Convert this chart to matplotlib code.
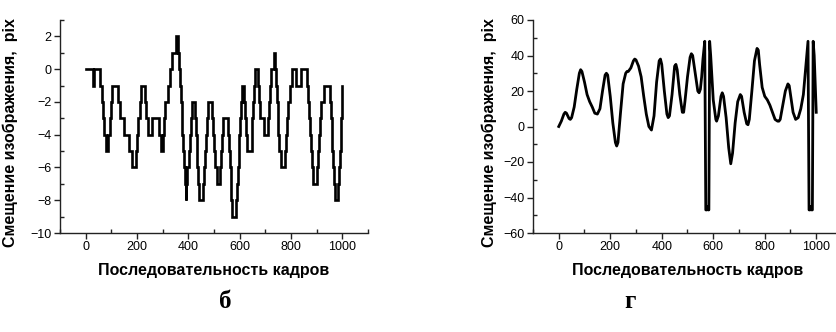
import matplotlib
matplotlib.use("Agg")
import matplotlib.pyplot as plt
from matplotlib.ticker import MultipleLocator

# ---- Panel б : stepped shift (integer pixels) ----
b_frames = [0, 27, 31, 55, 62, 67, 73, 80, 88, 93, 98, 104, 125, 133, 150, 167, 182, 195, 200, 205,
            210, 217, 232, 237, 243, 260, 284, 292, 300, 305, 311, 321, 329, 335, 353, 358, 363, 367,
            370, 374, 377, 380, 383, 386, 389, 392, 396, 401, 406, 411, 416, 426, 429, 432, 435, 439,
            443, 459, 462, 465, 468, 471, 476, 494, 498, 501, 505, 511, 524, 527, 531, 536, 556, 559,
            562, 565, 568, 571, 587, 590, 593, 596, 599, 602, 605, 608, 617, 620, 623, 627, 647, 650,
            653, 656, 660, 673, 676, 680, 696, 712, 715, 718, 722, 732, 736, 740, 744, 748, 751, 755,
            762, 778, 781, 784, 789, 795, 805, 818, 840, 864, 866, 869, 873, 876, 880, 886, 903, 907,
            910, 914, 918, 929, 952, 955, 958, 961, 964, 967, 970, 985, 988, 991, 993, 995, 997, 1000]
b_values = [0, -1, 0, -1, -2, -3, -4, -5, -4, -3, -2, -1, -2, -3, -4, -5, -6, -5, -4, -3,
            -2, -1, -2, -3, -4, -3, -4, -5, -4, -3, -2, -1, 0, 1, 2, 1, 0, -1,
            -2, -3, -4, -5, -6, -7, -8, -7, -6, -5, -4, -3, -2, -3, -4, -5, -6, -7,
            -8, -7, -6, -5, -4, -3, -2, -3, -4, -5, -6, -7, -6, -5, -4, -3, -4, -5,
            -6, -7, -8, -9, -8, -7, -6, -5, -4, -3, -2, -1, -2, -3, -4, -5, -4, -3,
            -2, -1, 0, -1, -2, -3, -4, -3, -2, -1, 0, 1, 0, -1, -2, -3, -4, -5,
            -6, -5, -4, -3, -2, -1, 0, -1, 0, -1, -2, -3, -4, -5, -6, -7, -6, -5,
            -4, -3, -2, -1, -2, -3, -4, -5, -6, -7, -8, -7, -6, -5, -4, -3, -2, -1]

# ---- Panel г : continuous shift ----
g_frames = [0, 10, 20, 25, 30, 40, 45, 50, 60, 70, 80, 85, 90, 100, 110, 120, 130, 140, 150, 160,
            170, 180, 185, 190, 200, 210, 220, 225, 230, 240, 250, 260, 265, 270, 280, 290, 295, 300,
            310, 320, 330, 340, 350, 360, 370, 380, 390, 395, 400, 410, 420, 425, 430, 440, 450, 455,
            460, 470, 480, 485, 490, 500, 510, 515, 520, 530, 540, 545, 550, 555, 560, 567, 571, 575,
            578, 581, 583, 586, 590, 600, 610, 613, 620, 630, 635, 640, 650, 660, 668, 675, 685, 695,
            705, 710, 720, 730, 735, 740, 750, 760, 770, 775, 780, 790, 800, 810, 820, 830, 840, 850,
            855, 860, 870, 880, 890, 895, 900, 910, 920, 930, 940, 950, 960, 968, 972, 976, 979, 982,
            985, 988, 992, 1000]
g_values = [0, 3, 7, 8, 7.5, 4.5, 4, 5, 11, 21, 30, 32, 31, 25, 18, 14, 11, 7.5, 7, 10,
            20, 29, 30, 29, 17, 2, -9, -11, -9, 8, 24, 30, 31, 31, 33, 37, 38, 37.5,
            34, 28, 17, 7, 0, -2, 6, 25, 37, 38, 35, 20, 7, 5, 6, 18, 34, 35,
            32, 18, 8, 8, 14, 28, 39, 41, 40, 30, 20, 19, 21, 28, 38, 48, -47, -47,
            -45, -47, -47, 48, 40, 15, 4, 3, 6, 17, 19, 17, 5, -12, -21, -15, 2, 14,
            18, 17, 8, 1.5, 1, 4, 20, 37, 44, 43, 35, 22, 17, 15, 12, 8, 4, 3,
            3, 4, 12, 20, 24, 23, 18, 8, 4, 5, 10, 18, 35, 48, -47, -47, -45, -47,
            -47, 48, 40, 8]

x_label = "Последовательность кадров"
y_label = "Смещение изображения,  pix"
panel_labels = ["б", "г"]

plt.rcParams['font.family'] = ['Liberation Sans', 'DejaVu Sans']

W, H = 837, 332
fig = plt.figure(figsize=(W / 100, H / 100), dpi=100)

def px_axes(x0, x1, ytop, ybot):
    return fig.add_axes([x0 / W, (H - ybot) / H, (x1 - x0) / W, (ybot - ytop) / H])

ax1 = px_axes(60, 368, 20, 233)
ax2 = px_axes(533, 842, 20, 233)

ax1.plot(b_frames, b_values, drawstyle='steps-post', color='black', lw=1.9, solid_joinstyle='miter')
ax2.plot(g_frames, g_values, color='black', lw=2.0, solid_joinstyle='round')

ax1.set_xlim(-100, 1100)
ax1.set_ylim(-10, 3)
ax2.set_xlim(-100, 1100)
ax2.set_ylim(-60, 60)

ax1.xaxis.set_major_locator(MultipleLocator(200))
ax1.xaxis.set_minor_locator(MultipleLocator(100))
ax1.yaxis.set_major_locator(MultipleLocator(2))
ax1.yaxis.set_minor_locator(MultipleLocator(1))
ax2.xaxis.set_major_locator(MultipleLocator(200))
ax2.xaxis.set_minor_locator(MultipleLocator(100))
ax2.yaxis.set_major_locator(MultipleLocator(20))
ax2.yaxis.set_minor_locator(MultipleLocator(10))

ylabel_x = {ax1: -42 / 308, ax2: -36 / 309}
for ax in (ax1, ax2):
    for s in ('top', 'right'):
        ax.spines[s].set_visible(False)
    for s in ('left', 'bottom'):
        ax.spines[s].set_linewidth(1.0)
        ax.spines[s].set_color('#222222')
    ax.tick_params(which='major', direction='out', length=4, width=1.0, color='#222222',
                   labelsize=9, pad=2)
    ax.tick_params(which='minor', direction='in', length=3, width=1.0, color='#222222')
    ax.set_xlabel(x_label, fontsize=11.5, fontweight='bold', labelpad=7)
    ax.set_ylabel(y_label, fontsize=11.5, fontweight='bold', va='bottom')
    ax.yaxis.set_label_coords(ylabel_x[ax], 0.47)
    ax.set_facecolor('none')

fig.text(225 / W, 1 - 302 / H, panel_labels[0], family=['Liberation Serif', 'DejaVu Serif'],
         fontsize=18, fontweight='bold', ha='center', va='center')
fig.text(630 / W, 1 - 302 / H, panel_labels[1], family=['Liberation Serif', 'DejaVu Serif'],
         fontsize=18, fontweight='bold', ha='center', va='center')

fig.savefig('out.png', dpi=100)
